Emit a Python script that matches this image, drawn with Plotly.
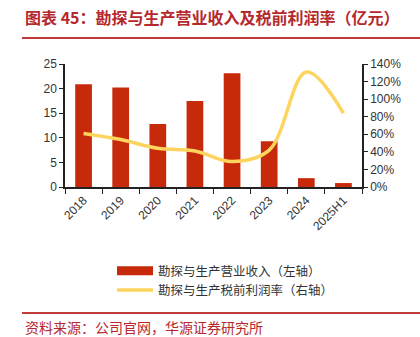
import plotly.graph_objects as go

categories = ["2018", "2019", "2020", "2021", "2022", "2023", "2024", "2025H1"]
revenue = [20.9, 20.2, 12.8, 17.5, 23.1, 9.3, 1.8, 0.8]
margin_pct = [0.61, 0.54, 0.44, 0.41, 0.29, 0.42, 1.31, 0.84]

W, H = 420, 337
L, R, T, B = 65, 58, 64, 150
pw, ph = W - L - R, H - T - B

def px(x):
    return (x - L) / pw

def py(y):
    return (H - B - y) / ph

BAR_COLOR = "#C62A0A"
LINE_COLOR = "#FDD55E"

fig = go.Figure()
fig.add_trace(go.Bar(
    x=categories, y=revenue, name="勘探与生产营业收入（左轴）", showlegend=False,
    marker=dict(color=BAR_COLOR, line=dict(width=0)), width=0.45,
))
# legend-only swatch for the bars (wide rectangle like the reference)
fig.add_trace(go.Scatter(
    x=[None], y=[None], name="勘探与生产营业收入（左轴）", mode="lines",
    line=dict(color=BAR_COLOR, width=9), showlegend=True,
))
fig.add_trace(go.Scatter(
    x=categories, y=margin_pct, name="勘探与生产税前利润率（右轴）", yaxis="y2",
    mode="lines", line=dict(color=LINE_COLOR, width=3.5, shape="spline", smoothing=1.0),
))

tickfont = dict(family="Liberation Sans, Arial, sans-serif", size=12, color="#333333")
fig.update_layout(
    width=W, height=H,
    margin=dict(l=L, r=R, t=T, b=B),
    paper_bgcolor="white", plot_bgcolor="white",
    showlegend=True,
    xaxis=dict(
        type="category", tickangle=-45, tickfont=tickfont,
        showline=True, linecolor="#222222", linewidth=1.5,
        ticks="outside", ticklen=5, tickcolor="#222222", tickson="boundaries",
        showgrid=False, zeroline=False,
    ),
    yaxis=dict(
        range=[0, 25], dtick=5, tickfont=tickfont,
        showline=True, linecolor="#222222", linewidth=1.5,
        ticks="outside", ticklen=4, tickcolor="#222222",
        showgrid=False, zeroline=False,
    ),
    yaxis2=dict(
        range=[0, 1.4], dtick=0.2, tickformat=".0%", overlaying="y", side="right",
        tickfont=tickfont,
        showline=True, linecolor="#222222", linewidth=1.5,
        ticks="outside", ticklen=4, tickcolor="#222222",
        showgrid=False, zeroline=False,
    ),
    legend=dict(
        x=px(112), y=py(256), xanchor="left", yanchor="top",
        orientation="v", itemwidth=36, tracegroupgap=0,
        font=dict(family="Noto Sans CJK SC", size=12.5, color="#333333"),
        bgcolor="rgba(0,0,0,0)",
    ),
    annotations=[
        dict(text="<b>图表 45：勘探与生产营业收入及税前利润率（亿元）</b>",
             xref="paper", yref="paper", x=px(23), y=py(17), xanchor="left", yanchor="middle",
             showarrow=False, font=dict(family="Noto Sans CJK SC", size=16, color="#B5282C")),
        dict(text="资料来源：公司官网，华源证券研究所",
             xref="paper", yref="paper", x=px(23), y=py(327), xanchor="left", yanchor="middle",
             showarrow=False, font=dict(family="Noto Sans CJK SC", size=14, color="#B5282C")),
    ],
    shapes=[
        dict(type="line", xref="paper", yref="paper", x0=px(22), x1=px(420), y0=py(38), y1=py(38),
             line=dict(color="#C0393B", width=2)),
        dict(type="line", xref="paper", yref="paper", x0=px(22), x1=px(420), y0=py(313), y1=py(313),
             line=dict(color="#C0393B", width=2)),
    ],
)

fig.write_html("out.html")
